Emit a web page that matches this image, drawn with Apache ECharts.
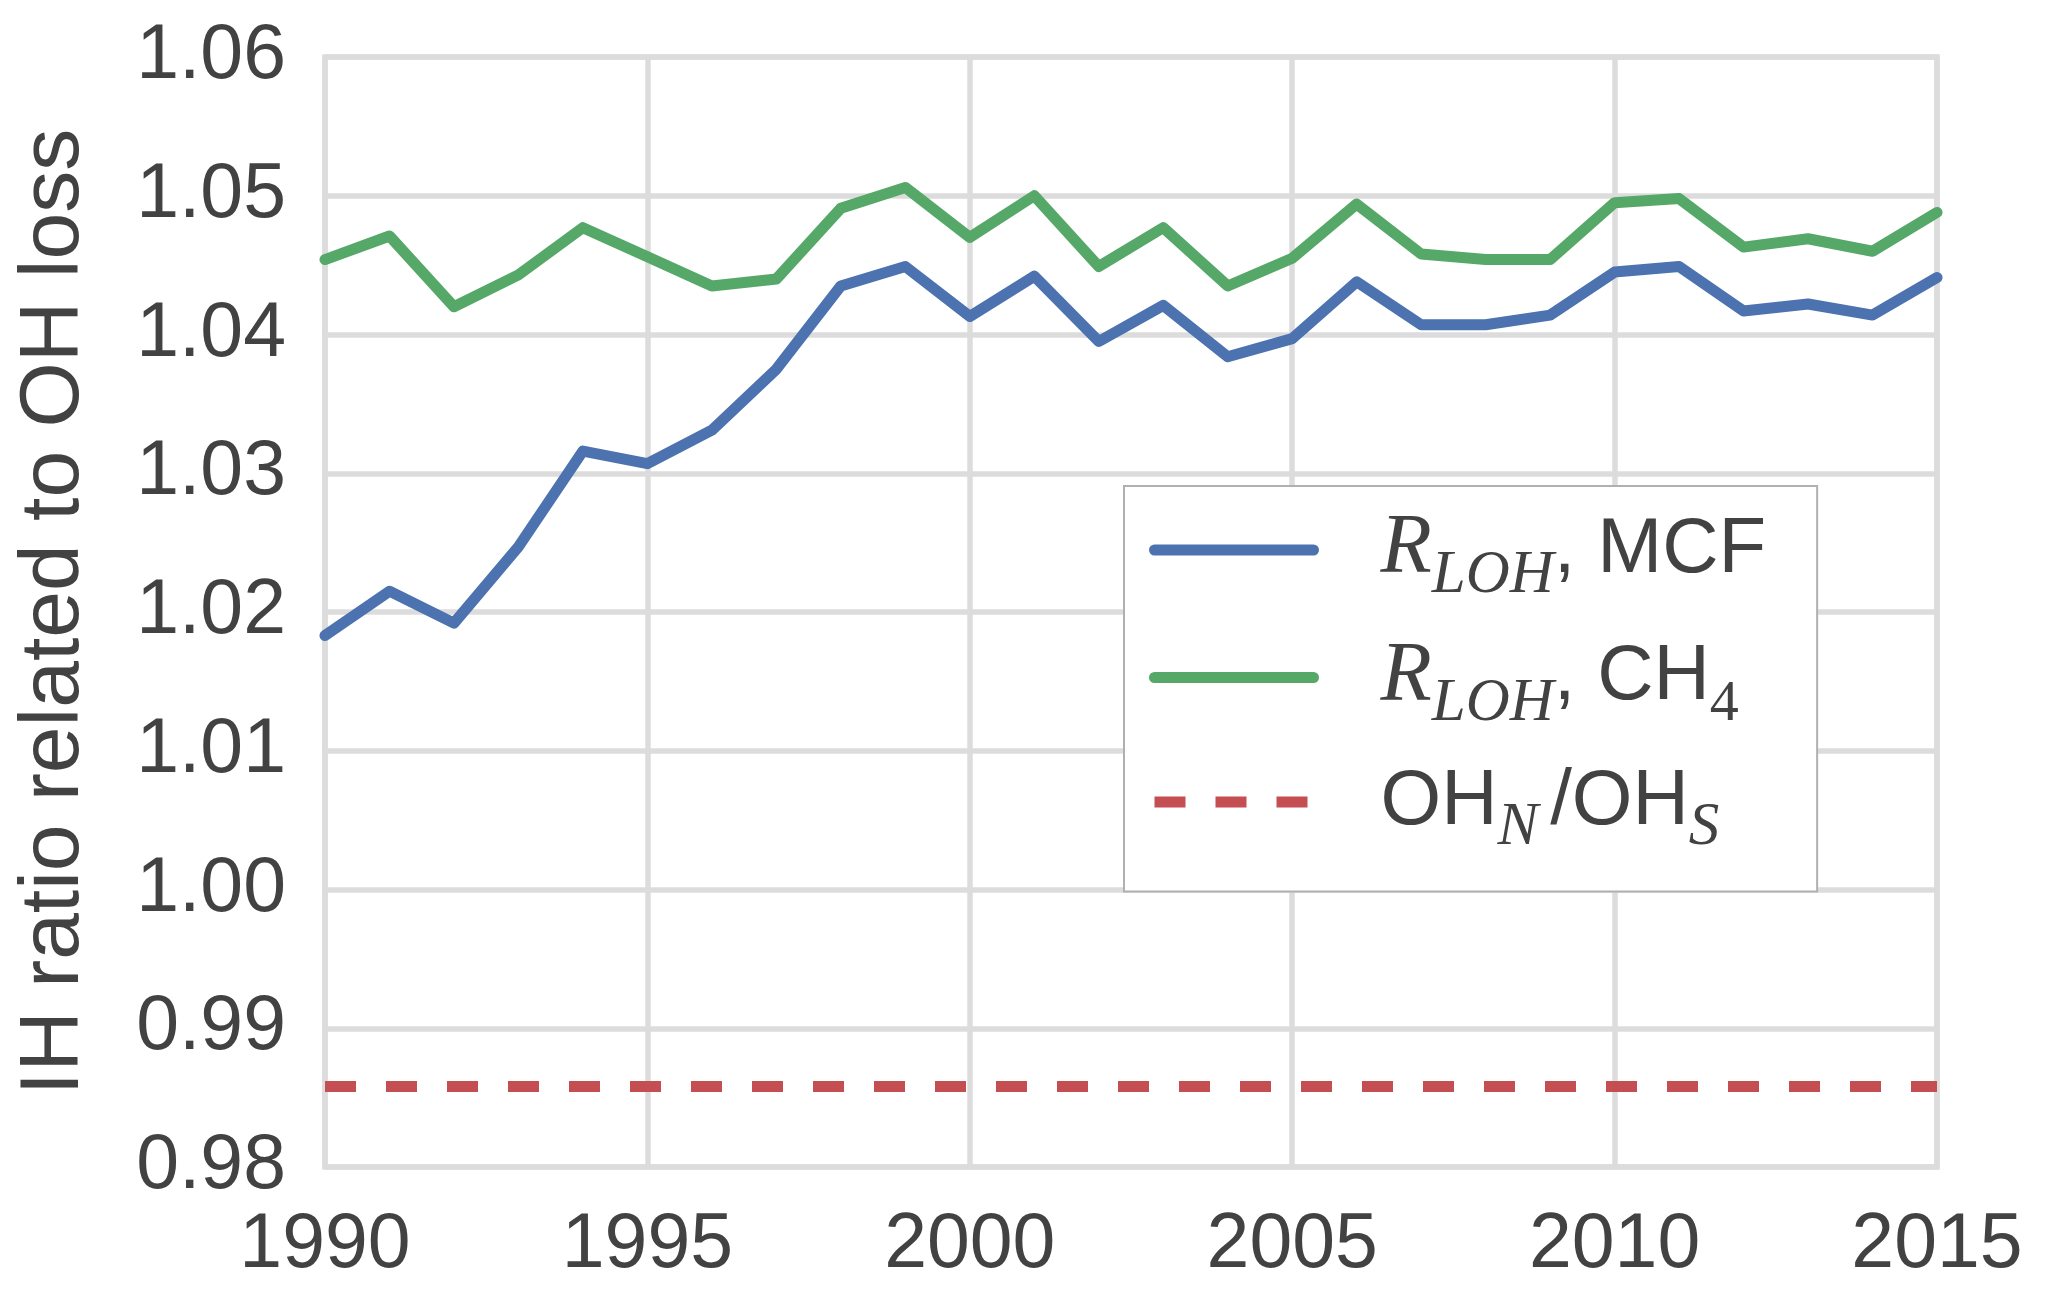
<!DOCTYPE html>
<html>
<head>
<meta charset="utf-8">
<script src="https://cdn.jsdelivr.net/npm/echarts@6/dist/echarts.min.js"></script>
<style>
  html, body { margin: 0; padding: 0; background: #ffffff; }
  #chart { width: 2050px; height: 1299px; }
</style>
</head>
<body>
<div id="chart"></div>
<script>
// ---- data ----
const years = [1990, 1991, 1992, 1993, 1994, 1995, 1996, 1997, 1998, 1999, 2000, 2001, 2002,
               2003, 2004, 2005, 2006, 2007, 2008, 2009, 2010, 2011, 2012, 2013, 2014, 2015];
const rlohMCF = [1.0183, 1.0215, 1.0192, 1.0247, 1.0316, 1.0307, 1.0331, 1.0375, 1.0435, 1.0449,
                 1.0413, 1.0442, 1.0395, 1.0421, 1.0384, 1.0397, 1.0438, 1.0407, 1.0407, 1.0414,
                 1.0445, 1.0449, 1.0417, 1.0422, 1.0414, 1.0441];
const rlohCH4 = [1.0454, 1.0471, 1.0420, 1.0443, 1.0477, 1.0456, 1.0435, 1.0440, 1.0491, 1.0506,
                 1.0470, 1.0500, 1.0449, 1.0477, 1.0435, 1.0455, 1.0494, 1.0458, 1.0454, 1.0454,
                 1.0495, 1.0498, 1.0463, 1.0469, 1.0460, 1.0488];
const ohRatioNS = [0.9858, 0.9858, 0.9858, 0.9858, 0.9858, 0.9858, 0.9858, 0.9858, 0.9858, 0.9858,
                   0.9858, 0.9858, 0.9858, 0.9858, 0.9858, 0.9858, 0.9858, 0.9858, 0.9858, 0.9858,
                   0.9858, 0.9858, 0.9858, 0.9858, 0.9858, 0.9858];
const seriesNames = ['R_LOH, MCF', 'R_LOH, CH4', 'OH_N/OH_S'];
const xTicks = { min: 1990, max: 2015, step: 5 };
const yTicks = { min: 0.98, max: 1.06, step: 0.01 };
const yAxisTitle = 'IH ratio related to OH loss';

// ---- styling ----
const TXT = '#424242';
const GRIDC = '#dcdcdc';
const SANS = '"Liberation Sans", Arial, sans-serif';
const SERIF = '"Liberation Serif", "Times New Roman", serif';

function pairs(xs, ys) { return xs.map((x, i) => [x, ys[i]]); }

const legendLabels = {
  'R_LOH, MCF': '{sp| }{r|R}{s|LOH}{t|, MCF}',
  'R_LOH, CH4': '{sp| }{r|R}{s|LOH}{t|, CH}{d|4}',
  'OH_N/OH_S': '{sp| }{t|OH}{s|N}{g| }{t|/OH}{s|S}'
};

const chart = echarts.init(document.getElementById('chart'), null, { renderer: 'canvas' });
chart.setOption({
  animation: false,
  backgroundColor: '#ffffff',
  grid: {
    left: 325, right: 113, top: 57, bottom: 132,
    show: true, borderColor: GRIDC, borderWidth: 5.5, backgroundColor: 'transparent'
  },
  xAxis: {
    type: 'value',
    min: xTicks.min, max: xTicks.max, interval: xTicks.step,
    axisLine: { show: false },
    axisTick: { show: false },
    splitLine: { show: true, lineStyle: { color: GRIDC, width: 5.5 } },
    axisLabel: { fontSize: 77, color: TXT, fontFamily: SANS, margin: 40,
                 formatter: v => String(Math.round(v)) }
  },
  yAxis: {
    type: 'value',
    min: yTicks.min, max: yTicks.max, interval: yTicks.step,
    name: yAxisTitle,
    nameLocation: 'middle',
    nameRotate: 90,
    nameGap: 228,
    nameTextStyle: { fontSize: 84, color: TXT, fontFamily: SANS },
    axisLine: { show: false },
    axisTick: { show: false },
    splitLine: { show: true, lineStyle: { color: GRIDC, width: 5.5 } },
    axisLabel: { fontSize: 77, color: TXT, fontFamily: SANS, margin: 39,
                 formatter: v => v.toFixed(2) }
  },
  legend: {
    orient: 'vertical',
    left: 1124, top: 486,
    padding: [22, 51, 33, 25],
    itemGap: 29,
    itemWidth: 159,
    itemHeight: 11,
    selectedMode: false,
    backgroundColor: '#ffffff',
    borderColor: '#b0b0b0',
    borderWidth: 2,
    borderRadius: 0,
    itemStyle: { opacity: 0 },
    lineStyle: { width: 11, cap: 'round' },
    data: [
      { name: seriesNames[0] },
      { name: seriesNames[1] },
      { name: seriesNames[2], lineStyle: { width: 11, cap: 'butt', type: [31, 30] } }
    ],
    formatter: name => legendLabels[name],
    textStyle: {
      color: TXT, fontSize: 78, fontFamily: SANS,
      rich: {
        sp: { width: 62 },
        g: { width: 12 },
        r: { fontFamily: SERIF, fontStyle: 'italic', fontSize: 84, lineHeight: 113, color: TXT },
        s: { fontFamily: SERIF, fontStyle: 'italic', fontSize: 61, lineHeight: 50, verticalAlign: 'bottom', color: TXT },
        d: { fontFamily: SERIF, fontSize: 58, lineHeight: 50, verticalAlign: 'bottom', color: TXT },
        t: { fontFamily: SANS, fontSize: 78, lineHeight: 113, color: TXT }
      }
    }
  },
  series: [
    {
      name: seriesNames[0], type: 'line', symbol: 'none', clip: true,
      data: pairs(years, rlohMCF),
      itemStyle: { color: '#4C72B0' },
      lineStyle: { color: '#4C72B0', width: 11, cap: 'round', join: 'round' }
    },
    {
      name: seriesNames[1], type: 'line', symbol: 'none', clip: true,
      data: pairs(years, rlohCH4),
      itemStyle: { color: '#55A868' },
      lineStyle: { color: '#55A868', width: 11, cap: 'round', join: 'round' }
    },
    {
      name: seriesNames[2], type: 'line', symbol: 'none', clip: true,
      data: pairs(years, ohRatioNS),
      itemStyle: { color: '#C44E52' },
      lineStyle: { color: '#C44E52', width: 11, type: [31, 30], cap: 'butt' }
    }
  ]
});
</script>
</body>
</html>
